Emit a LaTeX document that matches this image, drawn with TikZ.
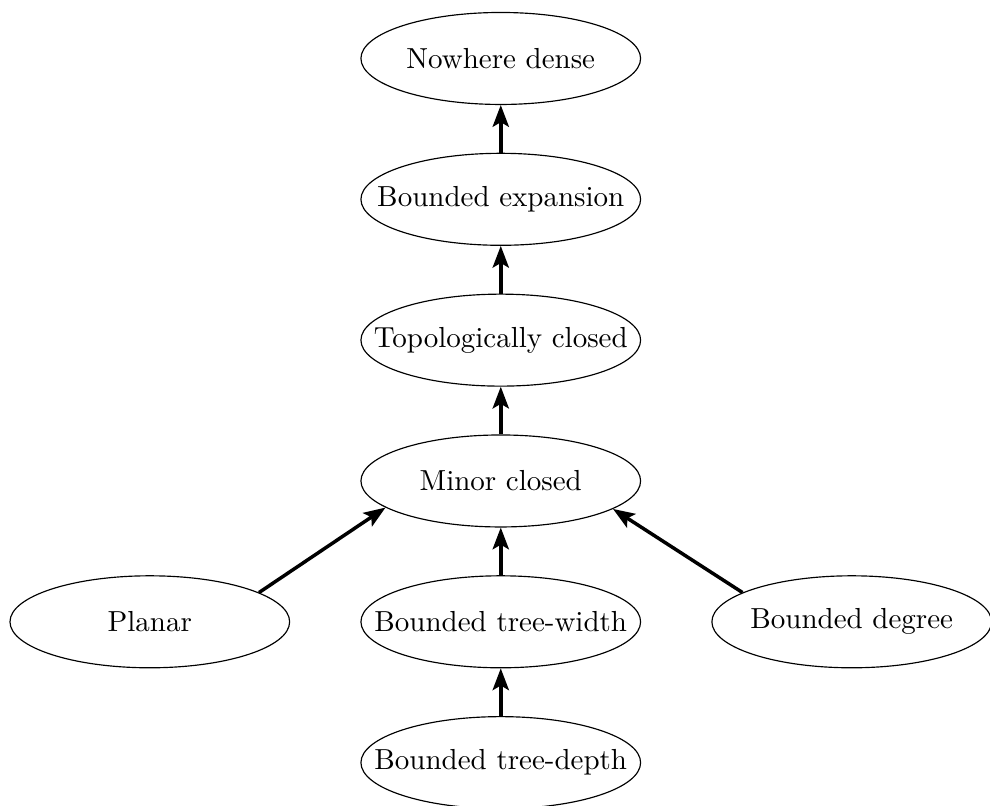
\documentclass[tikz,border=0pt]{standalone}
\usetikzlibrary{shapes.geometric,positioning,arrows.meta}

\tikzset{
  graphclass/.style = {draw, ellipse, inner xsep = -10pt, inner ysep = 0pt,
    minimum width = 3.39cm, minimum height = 1.115cm},
  implies/.style = {-{Stealth[length = 7.5pt, width = 5.6pt, inset = 1.6pt]}, very thick}
}

\begin{document}
\begin{tikzpicture}[node distance = 0.578cm and 0.85cm]
        \useasboundingbox (-6.07,-3.93) rectangle (5.93,5.83);

        % draws the classes
        \node[graphclass] (minor) at (0,0) {Minor closed};
        \node[graphclass, above = of minor] (topo) {Topologically closed};
        \node[graphclass, above = of topo] (bexp) {Bounded expansion};
        \node[graphclass, above = of bexp] (nd) {Nowhere dense};
        \node[graphclass, below = of minor] (tw) {Bounded tree-width};
        \node[graphclass, below = of tw] (td) {Bounded tree-depth};
        \node[graphclass, left = of tw] (planar) {Planar};
        \node[graphclass, right = of tw] (deg) {Bounded degree};

        % draws the inclusions
        \draw[implies] (bexp) -- (nd);
        \draw[implies] (topo) -- (bexp);
        \draw[implies] (minor) -- (topo);
        \draw[implies] (tw) -- (minor);
        \draw[implies] (td) -- (tw);
        \draw[implies] (planar.15.5) -- (minor.193.8);
        \draw[implies] (deg.165.2) -- (minor.346.2);
      \end{tikzpicture}
\end{document}
